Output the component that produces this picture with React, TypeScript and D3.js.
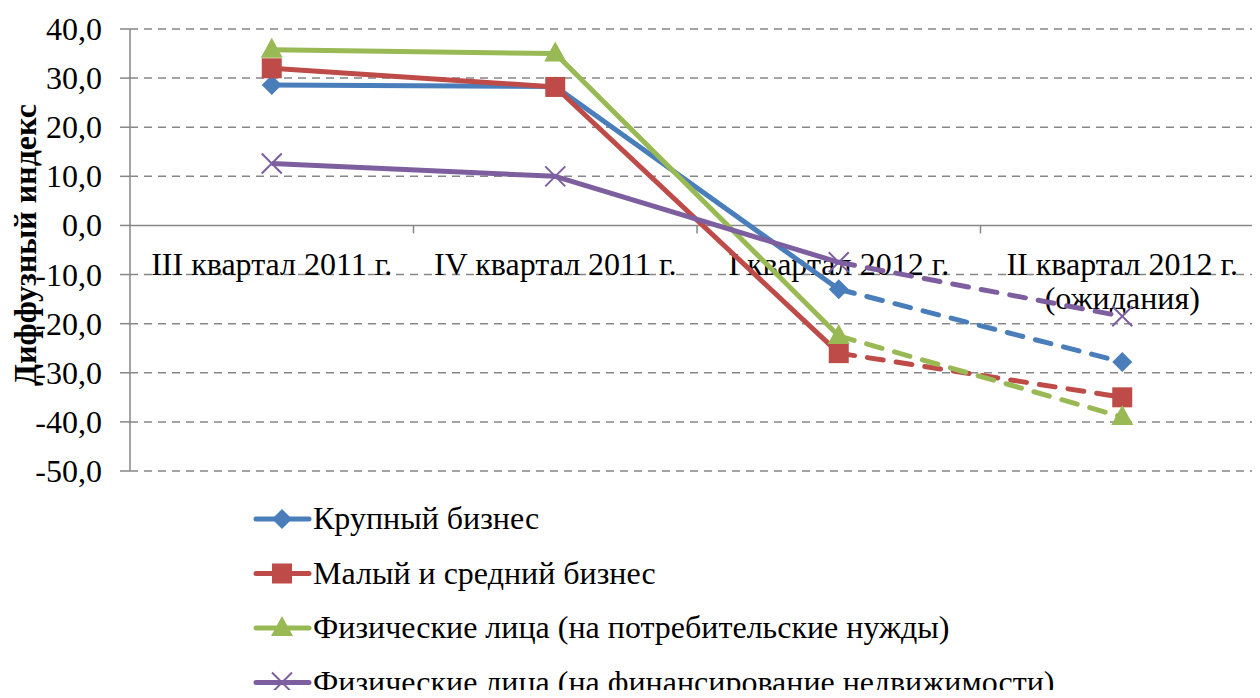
import * as d3 from "d3";
import { useEffect, useRef } from "react";

const categories = ["III квартал 2011 г.", "IV квартал 2011 г.", "I квартал 2012 г.", "II квартал 2012 г.|(ожидания)"];
const seriesNames = [
    "Крупный бизнес",
    "Малый и средний бизнес",
    "Физические лица (на потребительские нужды)",
    "Физические лица (на финансирование недвижимости)",
];
const krupny = [28.6, 28.3, -13.0, -27.8];
const maly = [32.0, 28.2, -26.0, -35.0];
const fizPotreb = [35.8, 35.0, -22.5, -39.0];
const fizNedv = [12.6, 10.0, -7.5, -18.5];
const yTicks = [40, 30, 20, 10, 0, -10, -20, -30, -40, -50];

const colors = ["#4a7ebb", "#be4b48", "#98b954", "#7d5fa0"];
const markers = ["diamond", "square", "triangle", "x"];

const App = () => {
    const svgRef = useRef<SVGSVGElement | null>(null);

    useEffect(() => {
        const svg = d3.select(svgRef.current);
        svg.selectAll("*").remove();

        const left = 130, right = 1264, top = 29, bottom = 471;
        const font = "'Liberation Serif', 'Times New Roman', serif";

        const x = d3.scalePoint().domain(categories).range([left, right]).padding(0.5);
        const step = x.step();
        const y = d3.scaleLinear().domain([-50, 40]).range([bottom, top]);

        // gridlines
        svg.append("g").selectAll("line")
            .data(yTicks.filter(t => t !== 0))
            .join("line")
            .attr("x1", left).attr("x2", 1258)
            .attr("y1", d => y(d)).attr("y2", d => y(d))
            .attr("stroke", "#878787").attr("stroke-width", 1.5)
            .attr("stroke-dasharray", "8,6");

        // y axis
        svg.append("line")
            .attr("x1", left).attr("x2", left).attr("y1", top).attr("y2", bottom)
            .attr("stroke", "#878787").attr("stroke-width", 1.5);
        svg.append("g").selectAll("line")
            .data(yTicks)
            .join("line")
            .attr("x1", left - 10).attr("x2", left)
            .attr("y1", d => y(d)).attr("y2", d => y(d))
            .attr("stroke", "#878787").attr("stroke-width", 1.5);
        svg.append("g").selectAll("text")
            .data(yTicks)
            .join("text")
            .attr("x", 102).attr("y", d => y(d) + 11)
            .attr("text-anchor", "end")
            .style("font-family", font).style("font-size", "32px")
            .text(d => d.toFixed(1).replace(".", ","));

        // zero line (category axis)
        svg.append("line")
            .attr("x1", left).attr("x2", 1258).attr("y1", y(0)).attr("y2", y(0))
            .attr("stroke", "#878787").attr("stroke-width", 1.5);
        svg.append("g").selectAll("line")
            .data(d3.range(1, categories.length))
            .join("line")
            .attr("x1", i => left + i * step).attr("x2", i => left + i * step)
            .attr("y1", y(0)).attr("y2", y(0) + 8)
            .attr("stroke", "#878787").attr("stroke-width", 1.5);

        // category labels
        const catG = svg.append("g");
        categories.forEach(c => {
            const lines = c.split("|");
            lines.forEach((ln, i) => {
                catG.append("text")
                    .attr("x", x(c)!).attr("y", 275 + i * 34)
                    .attr("text-anchor", "middle")
                    .style("font-family", font).style("font-size", "32px")
                    .text(ln);
            });
        });

        // y title
        svg.append("text")
            .attr("transform", `translate(36, 245) rotate(-90)`)
            .attr("text-anchor", "middle")
            .style("font-family", font).style("font-size", "32px").style("font-weight", "bold")
            .text("Диффузный индекс");

        const allSeries = [krupny, maly, fizPotreb, fizNedv];

        const drawMarker = (g: any, type: string, cx: number, cy: number, color: string) => {
            if (type === "diamond") {
                g.append("path").attr("d", `M${cx},${cy - 10}L${cx + 10},${cy}L${cx},${cy + 10}L${cx - 10},${cy}Z`).attr("fill", color);
            } else if (type === "square") {
                g.append("rect").attr("x", cx - 10).attr("y", cy - 10).attr("width", 20).attr("height", 20).attr("fill", color);
            } else if (type === "triangle") {
                g.append("path").attr("d", `M${cx},${cy - 12}L${cx + 11},${cy + 8}L${cx - 11},${cy + 8}Z`).attr("fill", color);
            } else {
                g.append("path").attr("d", `M${cx - 10},${cy - 10}L${cx + 10},${cy + 10}M${cx - 10},${cy + 10}L${cx + 10},${cy - 10}`)
                    .attr("stroke", color).attr("stroke-width", 2);
            }
        };

        const line = d3.line<number>().x((_, i) => x(categories[i])!).y(d => y(d));

        allSeries.forEach((vals, si) => {
            const g = svg.append("g");
            g.append("path")
                .attr("d", line(vals.slice(0, 3)))
                .attr("fill", "none").attr("stroke", colors[si]).attr("stroke-width", 5)
                .attr("stroke-linejoin", "round");
            g.append("path")
                .attr("d", `M${x(categories[2])},${y(vals[2])}L${x(categories[3])},${y(vals[3])}`)
                .attr("fill", "none").attr("stroke", colors[si]).attr("stroke-width", 5)
                .attr("stroke-dasharray", "16,13").attr("stroke-linecap", "round");
            vals.forEach((v, i) => drawMarker(g, markers[si], x(categories[i])!, y(v), colors[si]));
        });

        // legend
        const lg = svg.append("g");
        seriesNames.forEach((name, i) => {
            const cy = 519 + i * 54.5;
            lg.append("line").attr("x1", 256).attr("x2", 309).attr("y1", cy).attr("y2", cy)
                .attr("stroke", colors[i]).attr("stroke-width", 5).attr("stroke-linecap", "round");
            drawMarker(lg, markers[i], 282, cy, colors[i]);
            lg.append("text")
                .attr("x", 313).attr("y", cy + 10)
                .style("font-family", font).style("font-size", "32px")
                .text(name);
        });
    }, []);

    return <svg ref={svgRef} width={1260} height={698} style={{ display: "block", margin: "-8px" }} />;
};

export default App;
